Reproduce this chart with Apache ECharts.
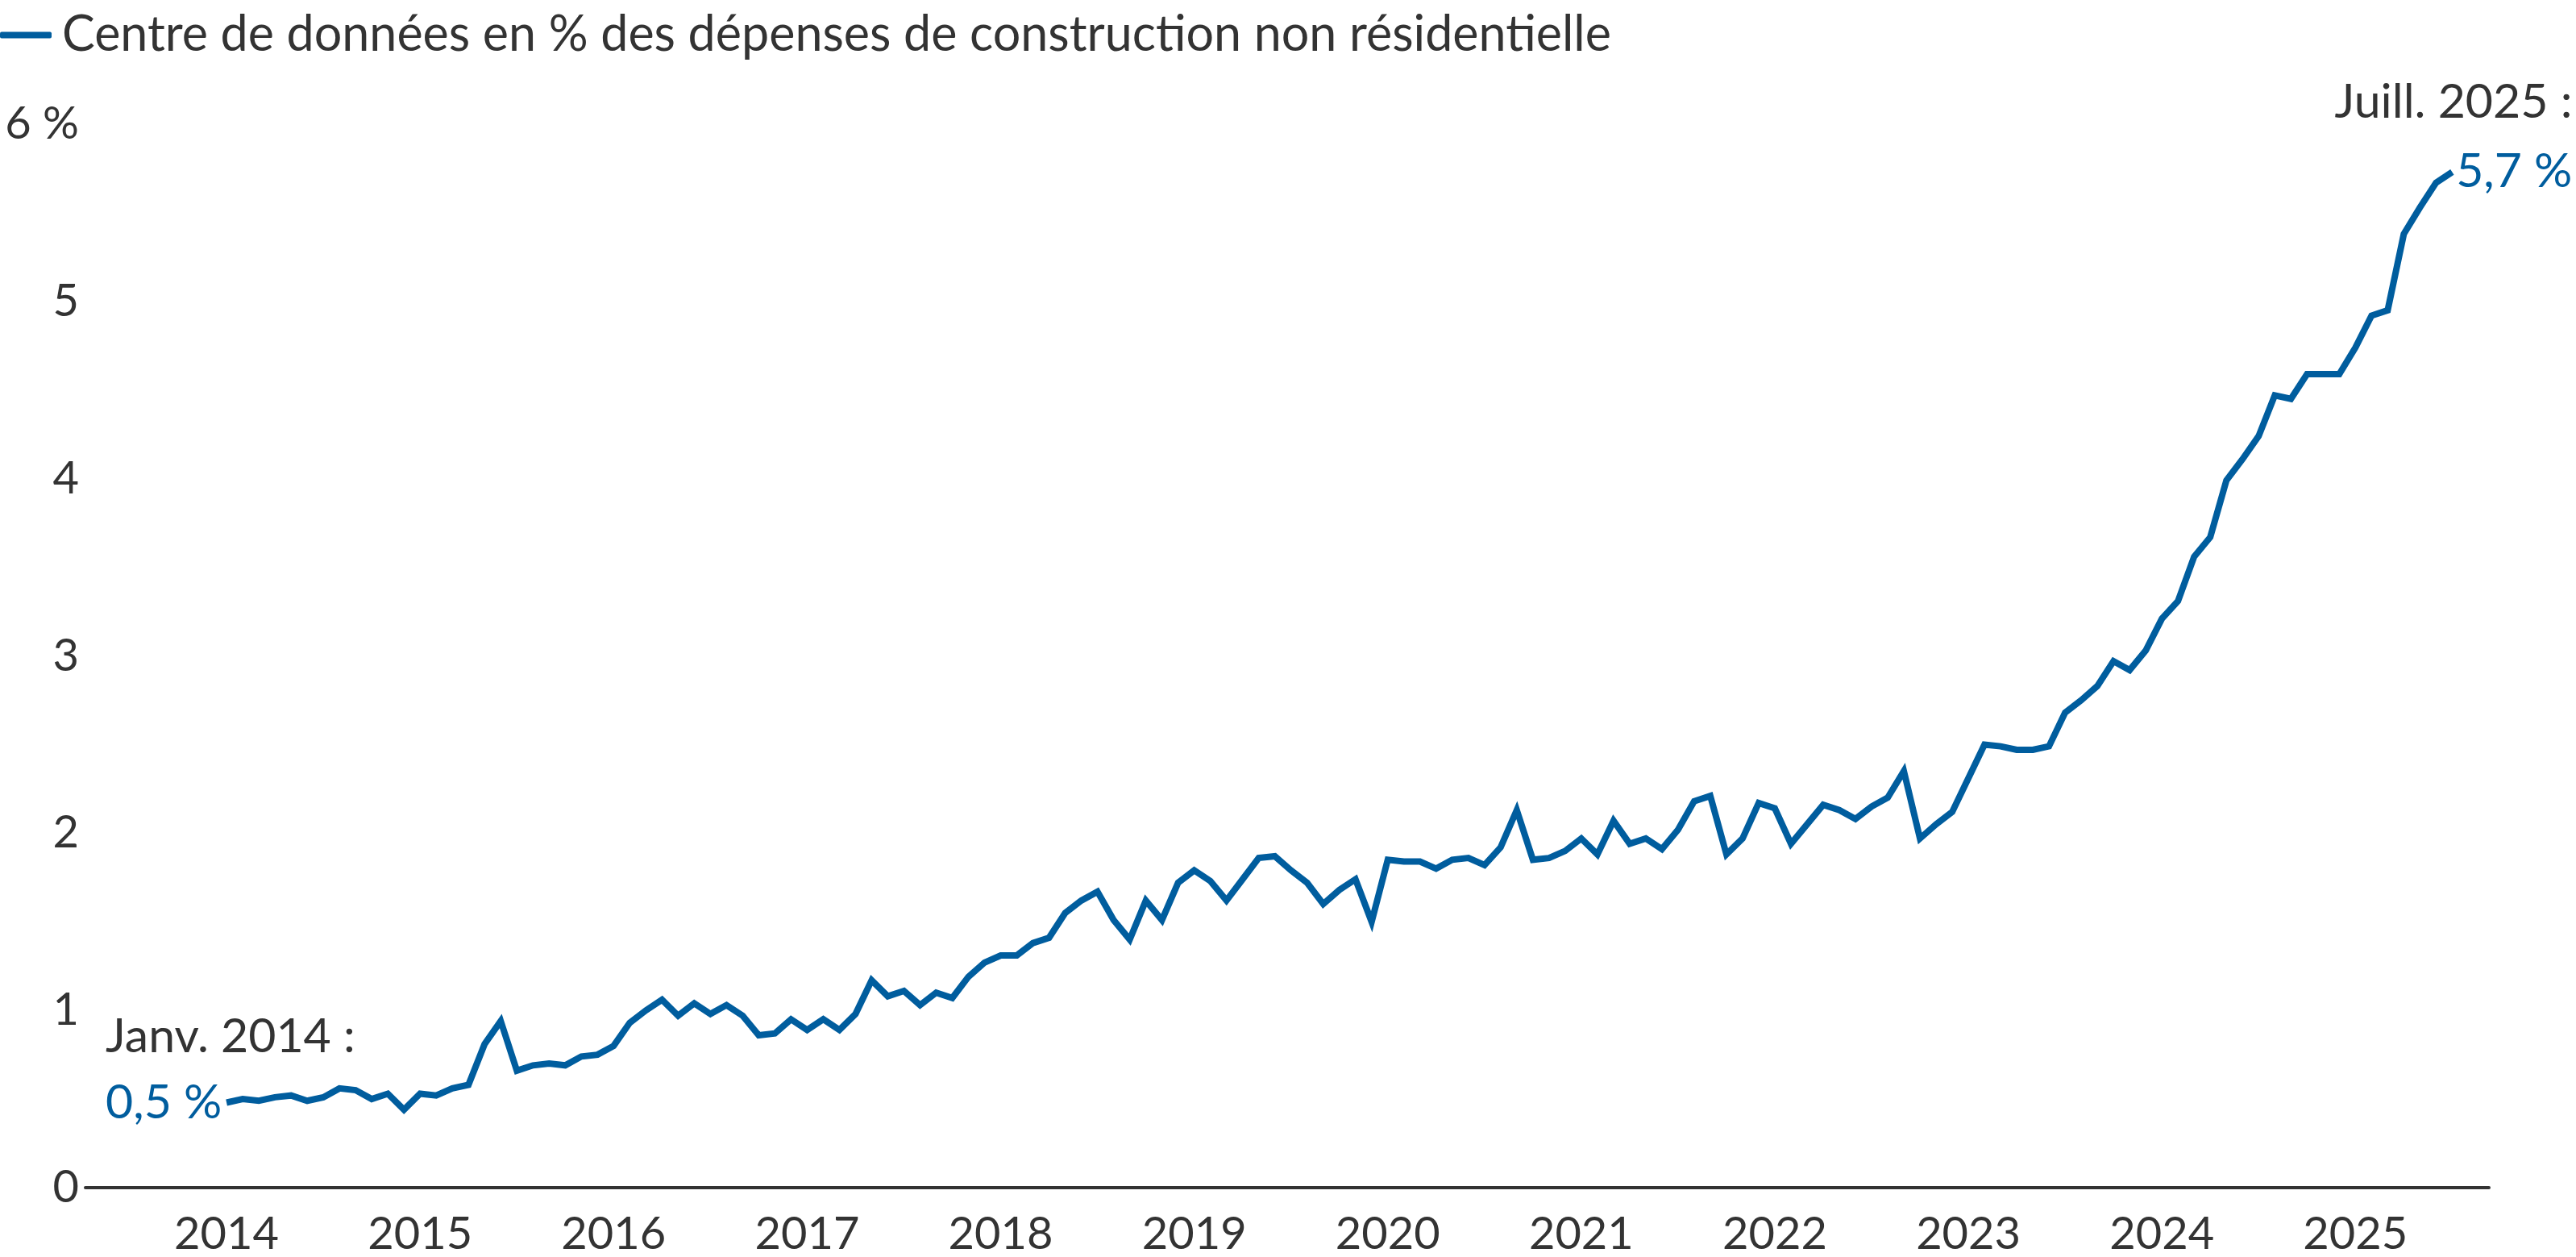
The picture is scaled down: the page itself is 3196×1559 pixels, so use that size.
<!DOCTYPE html>
<html>
<head>
<meta charset="utf-8">
<script src="https://cdn.jsdelivr.net/npm/echarts@6/dist/echarts.min.js"></script>
<style>
html,body{margin:0;padding:0;background:#fff;}
#chart{width:3196px;height:1559px;}
</style>
</head>
<body>
<div id="chart"></div>
<script>
// Data: monthly share (%) of data centres in non-residential construction spending
const years = ['2014','2015','2016','2017','2018','2019','2020','2021','2022','2023','2024','2025'];
const v2014 = [0.48,0.50,0.49,0.51,0.52,0.49,0.51,0.56,0.55,0.50,0.53,0.44];
const v2015 = [0.53,0.52,0.56,0.58,0.81,0.94,0.66,0.69,0.70,0.69,0.74,0.75];
const v2016 = [0.80,0.93,1.00,1.06,0.97,1.04,0.98,1.03,0.97,0.86,0.87,0.95];
const v2017 = [0.89,0.95,0.89,0.98,1.17,1.08,1.11,1.03,1.10,1.07,1.19,1.27];
const v2018 = [1.31,1.31,1.38,1.41,1.55,1.62,1.67,1.51,1.40,1.62,1.51,1.72];
const v2019 = [1.79,1.73,1.62,1.74,1.86,1.87,1.79,1.72,1.60,1.68,1.74,1.50];
const v2020 = [1.85,1.84,1.84,1.80,1.85,1.86,1.82,1.92,2.13,1.85,1.86,1.90];
const v2021 = [1.97,1.88,2.07,1.94,1.97,1.91,2.02,2.18,2.21,1.88,1.97,2.17];
const v2022 = [2.14,1.94,2.05,2.16,2.13,2.08,2.15,2.20,2.35,1.97,2.05,2.12];
const v2023 = [2.31,2.50,2.49,2.47,2.47,2.49,2.68,2.75,2.83,2.97,2.92,3.03];
const v2024 = [3.21,3.31,3.56,3.67,3.99,4.11,4.24,4.47,4.45,4.59,4.59,4.59];
const v2025 = [4.74,4.92,4.95,5.38,5.53,5.67,5.73];
const yTicks = [0,1,2,3,4,5,6];
const seriesName = 'Centre de données en % des dépenses de construction non résidentielle';
const startLabel = ['Janv. 2014 :', '0,5 %'];
const endLabel = ['Juill. 2025 :', '5,7 %'];

const values = [].concat(v2014,v2015,v2016,v2017,v2018,v2019,v2020,v2021,v2022,v2023,v2024,v2025);
const data = values.map((v, i) => [i, v]);
const lastIdx = values.length - 1;

const BLUE = '#005D9E';
const TEXT = '#333333';
const FONT = 'Lato';
const FS = 56;
const FS_ANN = 59;
const FS_LEG = 61;

const chart = echarts.init(document.getElementById('chart'), null, {renderer: 'canvas'});
chart.setOption({
  animation: false,
  backgroundColor: '#ffffff',
  textStyle: {fontFamily: FONT},
  grid: {left: 106, right: 108, top: 154, bottom: 82, containLabel: false},
  legend: {
    show: true,
    left: 0,
    top: 13,
    padding: 0,
    icon: 'roundRect',
    itemWidth: 64,
    itemHeight: 8,
    data: [seriesName],
    textStyle: {fontSize: FS_LEG, color: TEXT, fontFamily: FONT, padding: [0, 0, 0, 8]}
  },
  xAxis: {
    type: 'value',
    min: -8.75,
    max: 140.28,
    splitLine: {show: false},
    axisTick: {show: false},
    axisLine: {show: true, onZero: true, lineStyle: {color: TEXT, width: 4}},
    axisLabel: {
      customValues: years.map((y, i) => i * 12),
      formatter: (v) => years[Math.round(v / 12)],
      fontSize: FS, color: TEXT, fontFamily: FONT, margin: 30
    }
  },
  yAxis: {
    type: 'value',
    min: 0,
    max: 6,
    interval: 1,
    splitLine: {show: false},
    axisTick: {show: false},
    axisLine: {show: false},
    axisLabel: {
      formatter: (v) => (v === yTicks[yTicks.length - 1] ? v + ' %' : String(v)),
      fontSize: FS, color: TEXT, fontFamily: FONT, margin: 8
    }
  },
  series: [{
    name: seriesName,
    type: 'line',
    data: data,
    showSymbol: false,
    symbol: 'none',
    color: BLUE,
    lineStyle: {color: BLUE, width: 8, join: 'miter'},
    clip: false,
    markPoint: {
      symbol: 'circle',
      symbolSize: 0,
      silent: true,
      data: [
        {
          coord: data[0],
          label: {
            show: true,
            position: 'inside',
            align: 'left',
            verticalAlign: 'middle',
            offset: [-150, -41],
            formatter: '{a|' + startLabel[0] + '}\n{b|' + startLabel[1] + '}',
            rich: {
              a: {fontSize: FS_ANN, color: TEXT, fontFamily: FONT, lineHeight: 82},
              b: {fontSize: FS_ANN, color: BLUE, fontFamily: FONT, lineHeight: 82}
            }
          }
        },
        {
          coord: data[lastIdx],
          label: {
            show: true,
            position: 'inside',
            align: 'right',
            verticalAlign: 'middle',
            offset: [149, -43],
            formatter: '{a|' + endLabel[0] + '}\n{b|' + endLabel[1] + '}',
            rich: {
              a: {fontSize: FS_ANN, color: TEXT, fontFamily: FONT, lineHeight: 86, align: 'right'},
              b: {fontSize: FS_ANN, color: BLUE, fontFamily: FONT, lineHeight: 86, align: 'right'}
            }
          }
        }
      ]
    }
  }]
});
</script>
</body>
</html>
